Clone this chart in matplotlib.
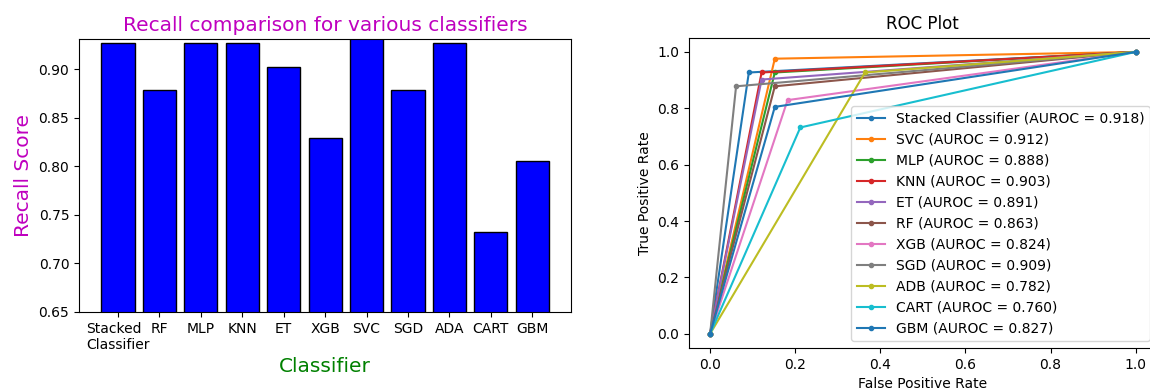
import matplotlib
matplotlib.use("Agg")
import matplotlib.pyplot as plt

# recall scores (bar chart)
bar_names = ["Stacked\nClassifier", "RF", "MLP", "KNN", "ET", "XGB",
             "SVC", "SGD", "ADA", "CART", "GBM"]
recall = [0.927, 0.878, 0.927, 0.927, 0.902, 0.829,
          0.976, 0.878, 0.927, 0.732, 0.805]

# ROC points (one operating point per classifier)
roc_names = ["Stacked Classifier", "SVC", "MLP", "KNN", "ET", "RF",
             "XGB", "SGD", "ADB", "CART", "GBM"]
roc_fpr = [0.091, 0.152, 0.152, 0.121, 0.121, 0.152,
           0.182, 0.061, 0.364, 0.212, 0.152]
roc_tpr = [0.927, 0.976, 0.927, 0.927, 0.902, 0.878,
           0.829, 0.878, 0.927, 0.732, 0.805]
auroc = [0.918, 0.912, 0.888, 0.903, 0.891, 0.863,
         0.824, 0.909, 0.782, 0.760, 0.827]

fig = plt.figure(figsize=(11.5, 3.9), dpi=100)

# left: recall bars
ax1 = fig.add_axes([0.0687, 0.2, 0.428, 0.7])
ax1.bar(range(len(recall)), recall, width=0.8, color="blue", edgecolor="black")
ax1.set_ylim(0.65, 0.931)
ax1.set_xticks(range(len(bar_names)))
ax1.set_xticklabels(bar_names)
for lbl in ax1.get_xticklabels():
    lbl.set_multialignment("left")
ax1.set_title("Recall comparison for various classifiers", color="m", fontsize=14.5)
ax1.set_xlabel("Classifier", color="green", fontsize=14.5)
ax1.set_ylabel("Recall Score", color="m", fontsize=14.5)

# right: ROC curves
ax2 = fig.add_axes([0.599, 0.108, 0.407, 0.795])
for name, f, t, a in zip(roc_names, roc_fpr, roc_tpr, auroc):
    ax2.plot([0, f, 1], [0, t, 1], marker=".",
             label="%s (AUROC = %.3f)" % (name, a))
ax2.set_title("ROC Plot")
ax2.set_xlabel("False Positive Rate")
ax2.set_ylabel("True Positive Rate")
ax2.legend(loc="lower right")

fig.savefig("out.png", dpi=100)
